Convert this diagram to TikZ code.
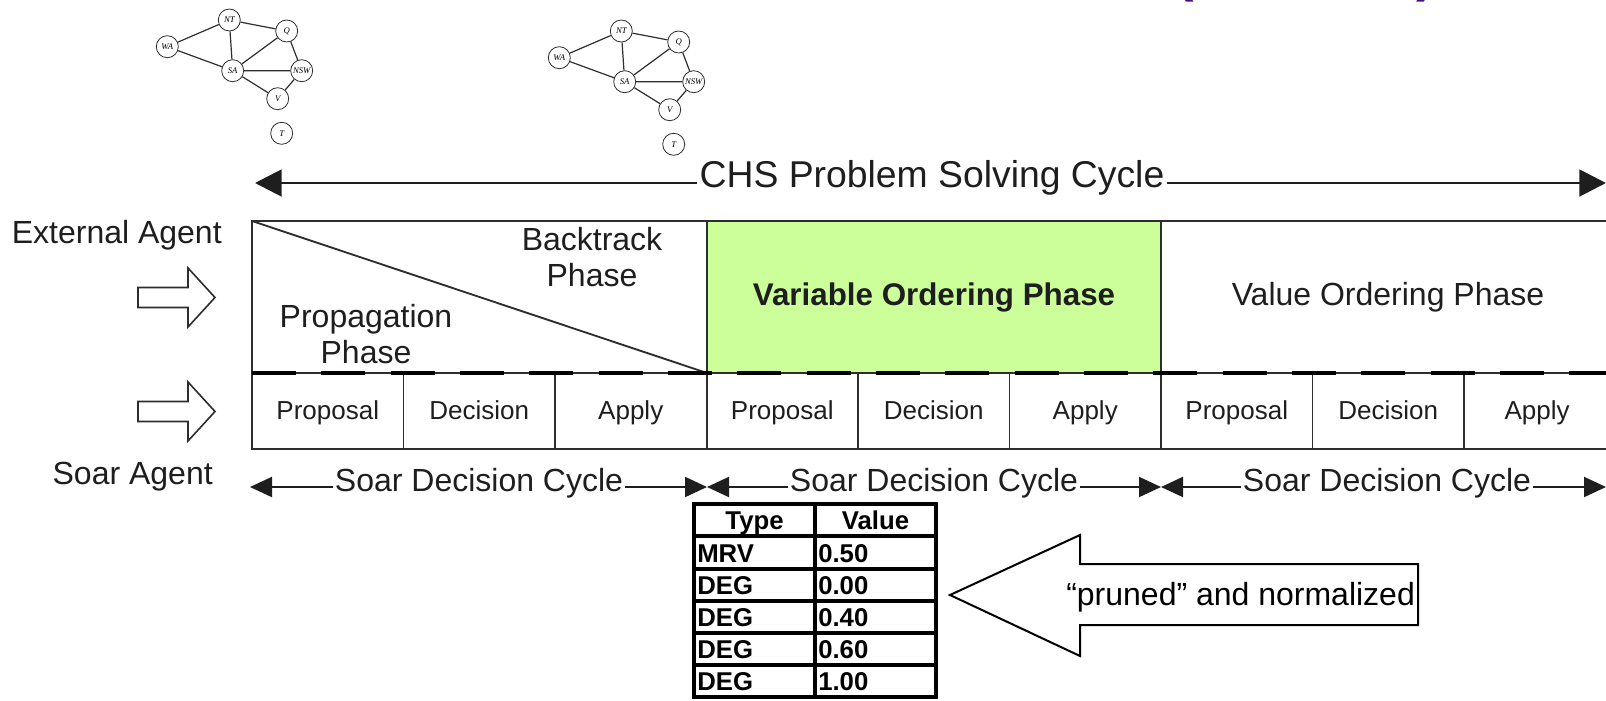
\documentclass[tikz,border=0pt]{standalone}
\usepackage{fontspec}
\setmainfont{Liberation Sans}
\newfontfamily\mapfont{Liberation Serif}
\usetikzlibrary{arrows.meta}

\definecolor{ink}{RGB}{30,30,30}
\definecolor{rule}{RGB}{45,45,45}
\definecolor{phasegreen}{RGB}{204,255,153}
\definecolor{titleviolet}{RGB}{75,15,125}

% constraint graph of the Australia map colouring problem
\newcommand\mapgraph[3]{%
  \begin{scope}[shift={(#2,#3)}]
    \node[vtx] (#1nt)  at (229.3,20)    {NT};
    \node[vtx] (#1q)   at (286.7,31)    {Q};
    \node[vtx] (#1wa)  at (167.3,46.7)  {WA};
    \node[vtx] (#1sa)  at (232.7,70.7)  {SA};
    \node[vtx] (#1nsw) at (301.7,70.7)  {NSW};
    \node[vtx] (#1v)   at (277.7,98.7)  {V};
    \node[vtx] (#1t)   at (281.7,133.3) {T};
    \draw[gedge] (#1wa) -- (#1nt)  (#1wa) -- (#1sa)  (#1nt) -- (#1sa)
                 (#1nt) -- (#1q)   (#1sa) -- (#1q)   (#1sa) -- (#1nsw)
                 (#1sa) -- (#1v)   (#1q) -- (#1nsw)  (#1nsw) -- (#1v);
  \end{scope}}

\begin{document}
\begin{tikzpicture}[x=0.75pt,y=-0.75pt,
  vtx/.style={circle, draw=rule, line width=0.6pt, fill=white,
              minimum size=16.5pt, inner sep=0pt,
              font=\mapfont\itshape\fontsize{6.5}{7}\selectfont},
  gedge/.style={draw=rule, line width=0.9pt},
  lbl/.style={font=\fontsize{24}{26.5}\selectfont, text=ink, inner sep=0pt, align=center},
  steplbl/.style={font=\fontsize{19.5}{22}\selectfont, text=ink, inner sep=0pt, anchor=base},
  online/.style={text height=0.72em, text depth=0pt, inner xsep=1.5pt, inner ysep=0pt},
  frame/.style={draw=rule, line width=1.5pt},
  divider/.style={draw=rule, line width=1.4pt},
  blockarrow/.style={draw=rule, line width=1.2pt, fill=white, line join=miter},
  cyclearrow/.style={draw=ink, line width=1.5pt, -{Triangle[length=16.5pt,width=15pt]}},
  chsarrow/.style={draw=ink, line width=2.2pt, -{Triangle[length=20pt,width=20pt]}},
  tabline/.style={draw=black, line width=2.4pt},
  tabhead/.style={font=\bfseries\fontsize{19.3}{21}\selectfont, inner sep=0pt, anchor=base},
  tabcell/.style={font=\bfseries\fontsize{19.3}{21}\selectfont, inner sep=0pt, anchor=base west},
  paren/.style={font=\bfseries\fontsize{42}{46}\selectfont, text=titleviolet, inner sep=0pt, anchor=base}
]
\useasboundingbox (0,0) rectangle (1606,700);

% title brackets running off the top edge
\node[paren] (lparen) at (1185,-10) {(};
\node[paren] (rparen) at (1426,-10) {)};

% two snapshots of the constraint graph
\mapgraph{a}{0}{0}
\mapgraph{b}{392}{11}

% overall cycle arrow
\coordinate (chsL) at (255,183);
\coordinate (chsR) at (1606,183);
\node[lbl, online, font=\fontsize{28}{31}\selectfont] (chs) at (932,183) {CHS Problem Solving Cycle};
\draw[chsarrow] (chs.west) -- (chsL);
\draw[chsarrow] (chs.east) -- (chsR);

% phase band
\fill[phasegreen] (707,221) rectangle (1161,373);
\draw[frame] (1620,221) -- (252,221) -- (252,449) -- (1620,449);
\draw[divider] (252,373) -- (1620,373);
\draw[divider] (252,221) -- (707,373);
\draw[divider] (707,221) -- (707,449);
\draw[divider] (1161,221) -- (1161,449);
\foreach \x in {403.5,555,858,1009.5,1312.5,1464}
  \draw[divider] (\x,373) -- (\x,449);
\draw[line width=3pt, dash pattern=on 33pt off 19pt] (252,373) -- (1620,373);

\node[lbl] (backtrack) at (592,257) {Backtrack\\Phase};
\node[lbl] (propagation) at (366,334) {Propagation\\Phase};
\node[lbl, font=\bfseries\fontsize{23.5}{26}\selectfont] (varorder) at (934,297) {Variable Ordering Phase};
\node[lbl] (valorder) at (1388,297) {Value Ordering Phase};

% Soar decision steps
\node[steplbl] (prop1) at (327.75,419) {Proposal};
\node[steplbl] (dec1)  at (479.25,419) {Decision};
\node[steplbl] (app1)  at (630.75,419) {Apply};
\node[steplbl] (prop2) at (782.25,419) {Proposal};
\node[steplbl] (dec2)  at (933.75,419) {Decision};
\node[steplbl] (app2)  at (1085.25,419) {Apply};
\node[steplbl] (prop3) at (1236.75,419) {Proposal};
\node[steplbl] (dec3)  at (1388.25,419) {Decision};
\node[steplbl] (app3)  at (1537,419) {Apply};

% agent labels and input arrows
\node[lbl, anchor=base east] (external) at (222,243) {External Agent};
\node[lbl, anchor=base east] (soar) at (213,484) {Soar Agent};
\draw[blockarrow] (138,287.5) -- (188,287.5) -- (188,268) -- (215,297.5)
                  -- (188,327) -- (188,307.5) -- (138,307.5) -- cycle;
\draw[blockarrow] (138,401.5) -- (188,401.5) -- (188,382) -- (215,411.5)
                  -- (188,441) -- (188,421.5) -- (138,421.5) -- cycle;

% decision cycle arrows
\coordinate (s0) at (250,487);
\coordinate (s1) at (707,487);
\coordinate (s2) at (1161,487);
\coordinate (s3) at (1606,487);
\node[lbl, online] (cyc1) at (479,487) {Soar Decision Cycle};
\node[lbl, online] (cyc2) at (934,487) {Soar Decision Cycle};
\node[lbl, online] (cyc3) at (1387,487) {Soar Decision Cycle};
\draw[cyclearrow] (cyc1.west) -- (s0);
\draw[cyclearrow] (cyc1.east) -- (s1);
\draw[cyclearrow] (cyc2.west) -- (s1);
\draw[cyclearrow] (cyc2.east) -- (s2);
\draw[cyclearrow] (cyc3.west) -- (s2);
\draw[cyclearrow] (cyc3.east) -- (s3);

% heuristic value table
\draw[tabline] (694,504) rectangle (936,697);
\draw[tabline] (815,504) -- (815,697);
\foreach \y in {536,569,601,633,665}
  \draw[tabline] (694,\y) -- (936,\y);
\node[tabhead] (thtype)  at (754.5,529) {Type};
\node[tabhead] (thvalue) at (875.5,529) {Value};
\node[tabcell] (t1a) at (697,562) {MRV};  \node[tabcell] (t1b) at (818,562) {0.50};
\node[tabcell] (t2a) at (697,594) {DEG};  \node[tabcell] (t2b) at (818,594) {0.00};
\node[tabcell] (t3a) at (697,626) {DEG};  \node[tabcell] (t3b) at (818,626) {0.40};
\node[tabcell] (t4a) at (697,658) {DEG};  \node[tabcell] (t4b) at (818,658) {0.60};
\node[tabcell] (t5a) at (697,690) {DEG};  \node[tabcell] (t5b) at (818,690) {1.00};

% callout arrow pointing at the table
\draw[draw=black, line width=1.5pt, fill=white, line join=miter]
  (1418,564) -- (1080,564) -- (1080,535) -- (950,595) -- (1080,656)
  -- (1080,625) -- (1418,625) -- cycle;
\node[inner sep=0pt, anchor=base west, font=\fontsize{24}{26}\selectfont] (pruned)
  at (1066,605) {“pruned” and normalized};
\end{tikzpicture}
\end{document}
